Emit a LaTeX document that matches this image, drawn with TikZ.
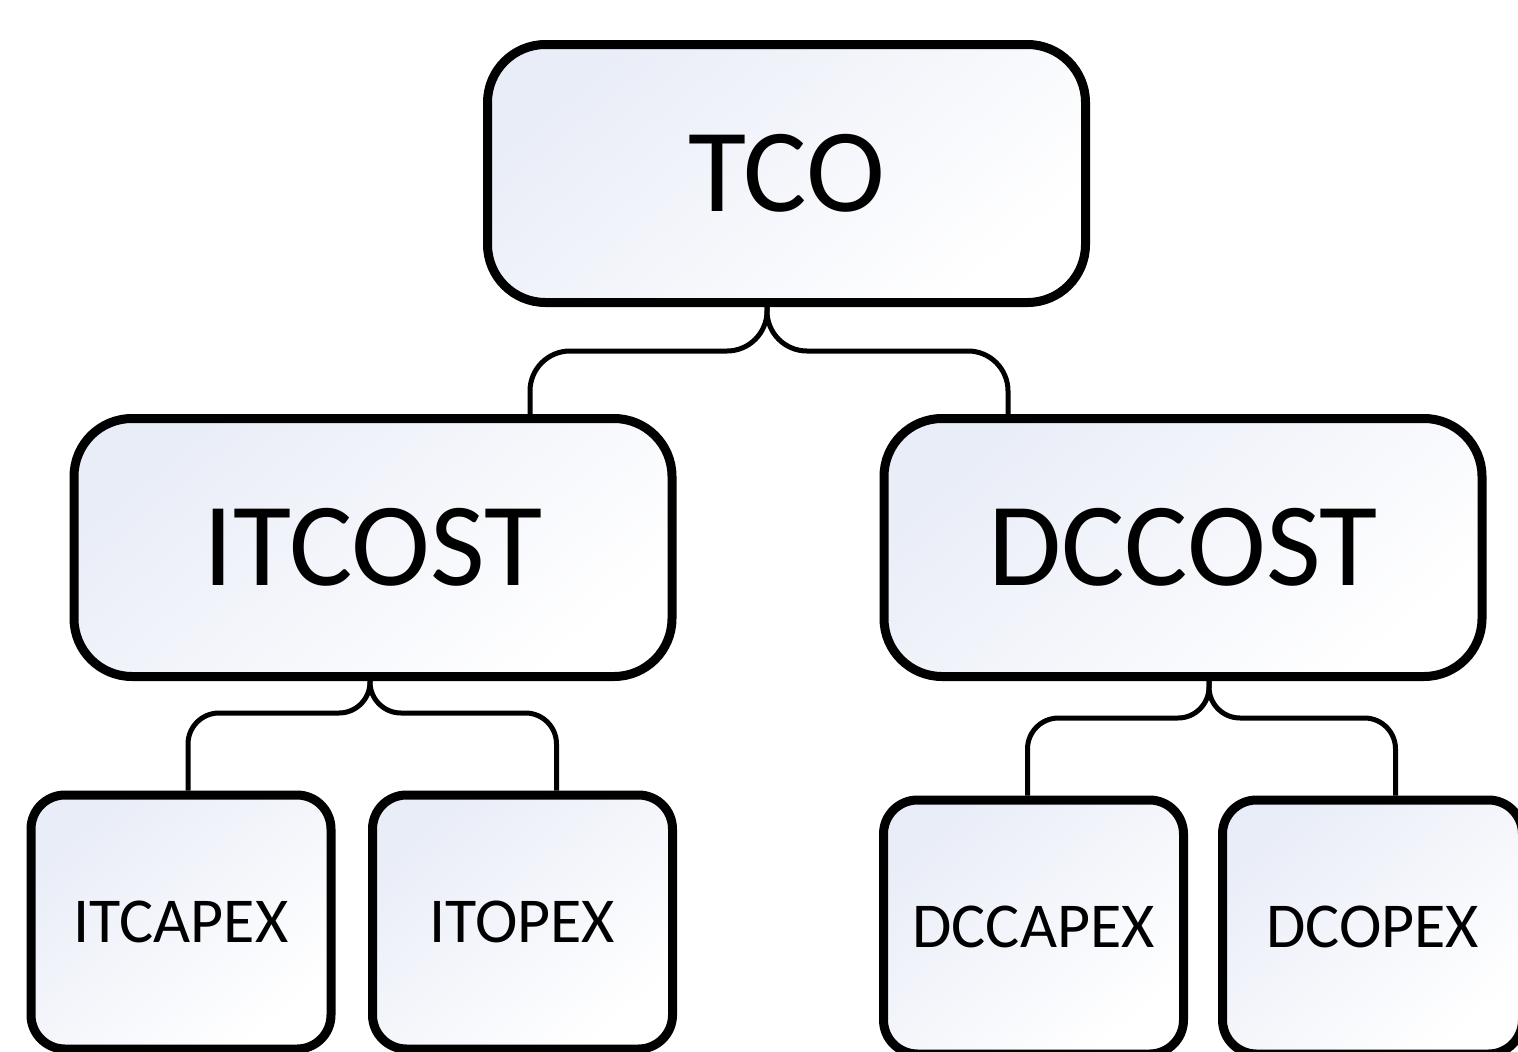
\documentclass[tikz,border=0pt]{standalone}
\usepackage{fontspec}
\setmainfont{Carlito}
\usetikzlibrary{calc}
\definecolor{shadeblue}{HTML}{E9EDF7}
\tikzset{
  box/.style={draw=black, line width=9pt, top color=shadeblue, bottom color=white, shading angle=40, inner sep=0pt, align=center},
  bigbox/.style={box, rounded corners=58pt, minimum width=598pt, minimum height=258pt, font=\fontsize{119}{120}\selectfont},
  smallbox/.style={box, rounded corners=34pt, minimum width=300pt, minimum height=254pt, font=\fontsize{64}{66}\selectfont},
  conn/.style={draw=black, line width=5pt}
}
\begin{document}
\begin{tikzpicture}[x=1pt,y=-1pt]
\useasboundingbox (0,0) rectangle (1518,1052);
\clip (0,0) rectangle (1518,1052);
\fill[white] (0,0) rectangle (1518,1052);
% nodes
\node[bigbox] (tco) at (786.5,173.5) {TCO};
\node[bigbox] (itcost) at (373,547.5) {ITCOST};
\node[bigbox] (dccost) at (1183,547.5) {DCCOST};
\node[smallbox] (itcapex) at (181,922) {ITCAPEX};
\node[smallbox] (itopex) at (522.5,922) {ITOPEX};
\node[smallbox] (dccapex) at (1033.5,927) {DCCAPEX};
\node[smallbox] (dcopex) at (1372.5,927) {DCOPEX};
% connectors
\draw[conn, rounded corners=40pt] ([xshift=-19.5pt]tco.south) -- ++(0,44) -| ([xshift=157pt]itcost.north);
\draw[conn, rounded corners=40pt] ([xshift=-19.5pt]tco.south) -- ++(0,44) -| ([xshift=-175pt]dccost.north);
\draw[conn, rounded corners=31pt] ([xshift=-3pt]itcost.south) -- ++(0,32) -| ([xshift=7pt]itcapex.north);
\draw[conn, rounded corners=31pt] ([xshift=-3pt]itcost.south) -- ++(0,32) -| ([xshift=34pt]itopex.north);
\draw[conn, rounded corners=31pt] ([xshift=26pt]dccost.south) -- ++(0,37) -| ([xshift=-6pt]dccapex.north);
\draw[conn, rounded corners=31pt] ([xshift=26pt]dccost.south) -- ++(0,37) -| ([xshift=23pt]dcopex.north);
\end{tikzpicture}
\end{document}
